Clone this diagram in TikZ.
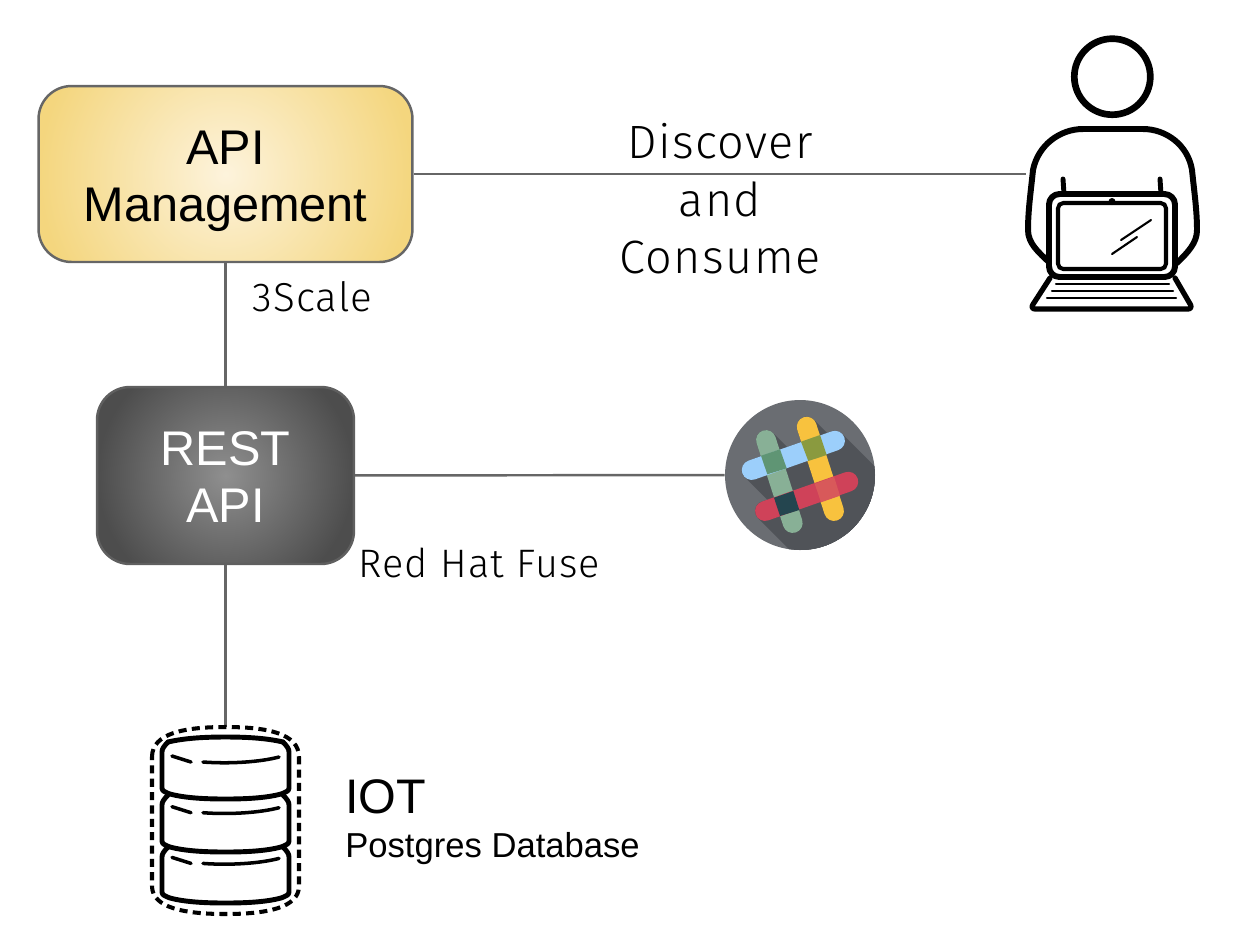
\documentclass[tikz,border=0pt]{standalone}
\usepackage{fontspec}
\setmainfont{Liberation Sans}
\newfontfamily\thinfont[UprightFont=* Light,LetterSpace=3]{Fira Sans}
\definecolor{linegray}{HTML}{666666}
\definecolor{apicore}{HTML}{FDF3DC}
\definecolor{apiedge}{HTML}{F4D67E}
\definecolor{restcore}{HTML}{8F8F8F}
\definecolor{restedge}{HTML}{4D4D4D}
\definecolor{slackdisc}{HTML}{6A6D72}
\definecolor{slackshade}{HTML}{505358}
\definecolor{slackgreen}{HTML}{88B096}
\definecolor{slackyellow}{HTML}{F8C23E}
\definecolor{slackblue}{HTML}{9CCFFB}
\definecolor{slackred}{HTML}{CF4259}
\definecolor{crossgb}{HTML}{5F9574}
\definecolor{crossyb}{HTML}{8A9A3F}
\definecolor{crossgr}{HTML}{24454F}
\definecolor{crossyr}{HTML}{D8595A}
\tikzset{
  boxlabel/.style={font=\fontsize{27.7}{32.3}\selectfont, align=center, inner sep=0pt},
  wire/.style={draw=linegray, line width=1.4pt},
  icon/.style={line width=3.4pt, line join=round, line cap=round},
  disk/.style={line width=2.8pt, line join=round, line cap=round},
  iconthin/.style={line width=1.2pt, line cap=round},
  dbline/.style={line width=2pt, line cap=round},
  thinlabel/.style={font=\thinfont\fontsize{23}{27}\selectfont, inner sep=0pt, anchor=base west},
  biglabel/.style={thinlabel, font=\thinfont\fontsize{26.6}{32}\selectfont, anchor=base},
}
\begin{document}
\begin{tikzpicture}[x=0.02cm, y=-0.02cm]
    \useasboundingbox (0,0) rectangle (1258,938);
    % boxes
    \node[boxlabel, draw=linegray, line width=1.4pt, fill=apiedge, rounded corners=0.66cm,
          minimum width=7.48cm, minimum height=3.52cm,
          path picture={\shade[inner color=apicore, outer color=apiedge] (path picture bounding box.center) circle (187);}]
          (api) at (225.5,174) {\rule{0pt}{27.4pt}API\\Management};
    \node[boxlabel, text=white, draw=restedge!90!white, line width=1.4pt, fill=restedge, rounded corners=0.66cm,
          minimum width=5.14cm, minimum height=3.54cm,
          path picture={\shade[inner color=restcore, outer color=restedge] (path picture bounding box.center) circle (128);}]
          (rest) at (225.5,475.5) {\rule{0pt}{21pt}REST\\API};
    % slack
    \node[circle, fill=slackdisc, minimum size=3cm, inner sep=0pt] (slack) at (800,475) {};
    \coordinate (user) at (1026,174);
    \coordinate (dbtop) at (225.5,726.5);
    \draw[wire] (api) -- (user);
    \draw[wire] (api) -- (rest);
    \draw[wire] (rest) -- (slack);
    \draw[wire] (rest) -- (dbtop);
    \begin{scope}
      \clip (800,475) circle (75);
      \foreach \ax/\ay/\bx/\by in {766/440/792.7/523, 806.7/426.7/834/511, 751.7/470/835/440.7, 765/511/848.3/481.7}
        \draw[slackshade, fill=slackshade, line width=11.3pt, line join=round]
          (\ax,\ay) -- (\bx,\by) -- (\bx+150,\by+150) -- (\ax+150,\ay+150) -- cycle;
    \end{scope}
    \draw[slackgreen, line width=11.3pt, line cap=round] (766,440) -- (792.7,523);
    \draw[slackyellow, line width=11.3pt, line cap=round] (806.7,426.7) -- (834,511);
    \draw[slackblue, line width=11.3pt, line cap=round] (751.7,470) -- (835,440.7);
    \draw[slackred, line width=11.3pt, line cap=round] (765,511) -- (848.3,481.7);
    \fill[crossgb] (761,455.7) -- (780,449.3) -- (786.7,468.3) -- (767.3,474.3) -- cycle;
    \fill[crossyb] (801,441.7) -- (820,435) -- (826.7,455) -- (808.3,461) -- cycle;
    \fill[crossgr] (774,497.7) -- (793.3,491) -- (799.3,510) -- (780,516) -- cycle;
    \fill[crossyr] (814.7,483.7) -- (834,476.7) -- (840,495.7) -- (821,502.3) -- cycle;
    % user with laptop
    \draw[icon, line width=3.8pt] (1112.3,76.7) circle (38);
    \draw[icon] (1050,263) .. controls (1038,252) and (1028,243) .. (1028,230)
       .. controls (1028,210) and (1031,190) .. (1033,170)
       .. controls (1038,145) and (1060,129) .. (1083,129) -- (1143,129)
       .. controls (1166,129) and (1188,145) .. (1192,170)
       .. controls (1194,190) and (1197,210) .. (1197,230)
       .. controls (1197,243) and (1188,252) .. (1177,263);
    \draw[icon, fill=white, rounded corners=6pt] (1049,194) rectangle (1175,277);
    \draw[line width=2.3pt, rounded corners=3pt] (1058,203) rectangle (1166,269);
    \fill (1112,201.5) circle (3.5);
    \draw[icon, line width=2.8pt] (1063,179) -- (1064,194);
    \draw[icon, line width=2.8pt] (1160,179) -- (1161,194);
    \draw[iconthin] (1121,240) -- (1151,220);
    \draw[iconthin] (1112,254) -- (1137,237);
    \draw[icon, line width=3pt, rounded corners=3pt] (1050,278) -- (1030,309) -- (1193,309) -- (1175,278);
    \draw[iconthin] (1056,284) -- (1169,284);
    \draw[iconthin] (1052,291) -- (1173,291);
    \draw[iconthin] (1047,298) -- (1176,298);
    % database
    \draw[line width=2.3pt, dashed, dash pattern=on 4.6pt off 3pt]
       (152,757) .. controls (152,733) and (185,727) .. (225.5,727)
       .. controls (266,727) and (299,733) .. (299,757) -- (299,886)
       .. controls (299,908) and (266,914) .. (225.5,914)
       .. controls (185,914) and (152,908) .. (152,886) -- cycle;
    \foreach \dy/\top/\bot in {0/752/788, 1/805/841, 2/857/892} {
      \draw[disk] (168,\top-10) .. controls (164,\top-6) and (162,\top-3) .. (162,\top) -- (162,\bot)
         .. controls (162,\bot+3) and (165,\bot+4) .. (170,\bot+6)
         .. controls (185,\bot+10) and (205,\bot+11) .. (225.5,\bot+11)
         .. controls (246,\bot+11) and (266,\bot+10) .. (281,\bot+6)
         .. controls (286,\bot+4) and (289,\bot+3) .. (289,\bot) -- (289,\top)
         .. controls (289,\top-3) and (287,\top-6) .. (283,\top-10);
      \draw[dbline] (172,756+50.7*\dy) -- (191,762+50.7*\dy);
      \draw[dbline] (203,762+50.7*\dy) .. controls (230,764+50.7*\dy) and (260,762+50.7*\dy) .. (279,757+50.7*\dy);
    }
    \draw[disk] (168,742) .. controls (185,738) and (205,737) .. (225.5,737)
       .. controls (246,737) and (266,738) .. (283,742);
    % labels
    \node[biglabel] (discover) at (720,158) {Discover};
    \node[biglabel] (andword) at (720,216) {and};
    \node[biglabel] (consume) at (720,273) {Consume};
    \node[thinlabel] (scale) at (252,311) {3Scale};
    \node[thinlabel, font=\thinfont\fontsize{22.6}{27}\selectfont] (fuse) at (358,577) {Red Hat Fuse};
    \node[font=\fontsize{27.6}{32}\selectfont, inner sep=0pt, anchor=base west] (iot) at (345,813) {IOT};
    \node[font=\fontsize{19.7}{24}\selectfont, inner sep=0pt, anchor=base west] (postgres) at (345,857) {Postgres Database};
\end{tikzpicture}
\end{document}
